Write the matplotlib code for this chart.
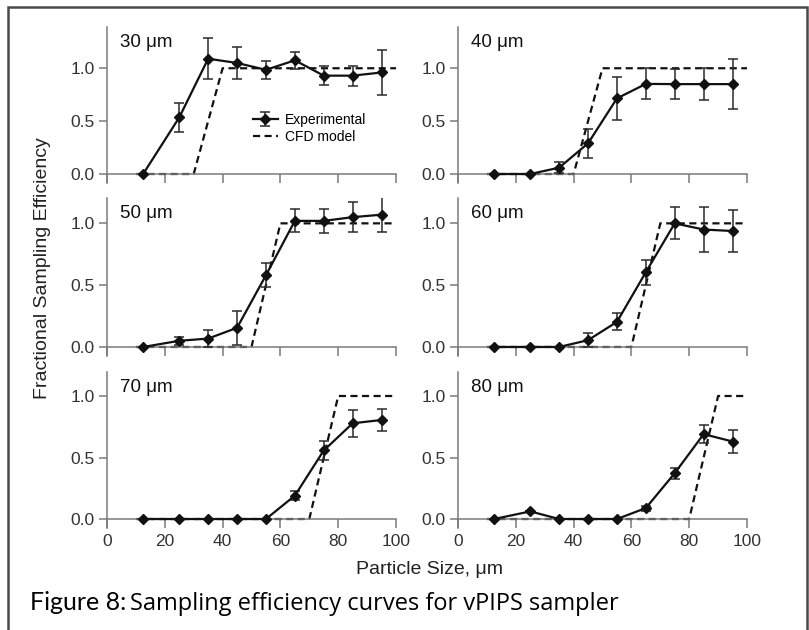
import matplotlib
matplotlib.use("Agg")
import matplotlib.pyplot as plt
from matplotlib.patches import Rectangle

plt.rcParams.update({
    "font.family": ["Liberation Sans", "DejaVu Sans"],
    "font.size": 12.5,
    "axes.edgecolor": "#7a7a7a",
    "xtick.color": "#7a7a7a",
    "ytick.color": "#7a7a7a",
    "xtick.labelcolor": "#333333",
    "ytick.labelcolor": "#333333",
})

# ---------- data ----------
sizes = [12.5, 25, 35, 45, 55, 65, 75, 85, 95]
cutoffs = [30, 40, 50, 60, 70, 80]          # panel labels, um

eff_30 = [0.0, 0.535, 1.09, 1.05, 0.985, 1.075, 0.93, 0.93, 0.96]
err_30 = [0.0, 0.135, 0.195, 0.155, 0.085, 0.08, 0.087, 0.095, 0.21]
eff_40 = [0.0, 0.0, 0.06, 0.29, 0.715, 0.852, 0.85, 0.85, 0.85]
err_40 = [0.0, 0.0, 0.055, 0.135, 0.2, 0.147, 0.145, 0.148, 0.24]
eff_50 = [0.0, 0.05, 0.068, 0.155, 0.58, 1.02, 1.02, 1.05, 1.07]
err_50 = [0.0, 0.03, 0.07, 0.135, 0.097, 0.092, 0.1, 0.12, 0.14]
eff_60 = [0.0, 0.0, 0.0, 0.055, 0.203, 0.605, 1.0, 0.95, 0.938]
err_60 = [0.0, 0.0, 0.0, 0.057, 0.068, 0.1, 0.13, 0.18, 0.17]
eff_70 = [0.0, 0.0, 0.0, 0.0, 0.0, 0.19, 0.557, 0.778, 0.805]
err_70 = [0.0, 0.0, 0.0, 0.0, 0.0, 0.037, 0.074, 0.108, 0.088]
eff_80 = [0.0, 0.062, 0.0, 0.0, 0.0, 0.089, 0.373, 0.69, 0.63]
err_80 = [0.0, 0.0, 0.0, 0.0, 0.0, 0.02, 0.045, 0.075, 0.09]

# CFD model: zero up to the cut size, one at cut size + 10 um
cfd_x_30 = [10, 30, 40, 100]
cfd_x_40 = [10, 40, 50, 100]
cfd_x_50 = [10, 50, 60, 100]
cfd_x_60 = [10, 60, 70, 100]
cfd_x_70 = [10, 70, 80, 100]
cfd_x_80 = [10, 80, 90, 100]
cfd_y = [0.0, 0.0, 1.0, 1.0]

panels = [
    (eff_30, err_30, cfd_x_30),
    (eff_40, err_40, cfd_x_40),
    (eff_50, err_50, cfd_x_50),
    (eff_60, err_60, cfd_x_60),
    (eff_70, err_70, cfd_x_70),
    (eff_80, err_80, cfd_x_80),
]

# ---------- layout ----------
W, H = 809, 630
fig = plt.figure(figsize=(W / 100, H / 100), dpi=100)

col_x = [107, 458]
col_w = 289
row_y = [(27, 183), (198, 356), (372, 528)]
row_ylim = [(-0.085, 1.39), (-0.073, 1.205), (-0.073, 1.195)]

INK = "#111111"

for i, (eff, err, cfd_x) in enumerate(panels):
    r, c = divmod(i, 2)
    top, bot = row_y[r]
    ax = fig.add_axes([col_x[c] / W, 1 - bot / H, col_w / W, (bot - top) / H])
    ax.set_xlim(0, 100)
    ax.set_ylim(*row_ylim[r])

    ax.plot(cfd_x, cfd_y, color=INK, lw=1.6, dashes=(3.2, 2.0), zorder=2,
            label="CFD model")
    ax.errorbar(sizes, eff, yerr=err, fmt="-D", color=INK, lw=1.6, ms=5,
                ecolor="#2a2a2a", elinewidth=1.1, capsize=3.6, capthick=1.1,
                zorder=3, label="Experimental")

    for s in ("top", "right"):
        ax.spines[s].set_visible(False)
    ax.spines["bottom"].set_position(("data", 0))
    ax.spines["left"].set_linewidth(1.1)
    ax.spines["bottom"].set_linewidth(1.1)
    ax.set_xticks([0, 20, 40, 60, 80, 100])
    ax.set_yticks([0.0, 0.5, 1.0])
    ax.set_yticklabels(["0.0", "0.5", "1.0"])
    ax.tick_params(axis="x", direction="out", length=6.5, width=1.1, pad=4.5)
    ax.tick_params(axis="y", direction="out", length=5.8, width=1.1, pad=3)
    if r < 2:
        ax.tick_params(axis="x", labelbottom=False)

    ax.text(0.045, 0.9, f"{cutoffs[i]} \u03bcm", transform=ax.transAxes,
            ha="left", va="center", fontsize=13.5, color=INK)

    if i == 0:
        h, l = ax.get_legend_handles_labels()
        ax.legend(h[::-1], l[::-1], loc="center", bbox_to_anchor=(0.7, 0.35),
                  frameon=False, fontsize=10, handlelength=1.8,
                  handletextpad=0.5, labelspacing=0.2, borderpad=0)

fig.text(43 / W, 1 - 268 / H, "Fractional Sampling Efficiency", rotation=90,
         ha="center", va="center", fontsize=14, color="#222222")
fig.text(430 / W, 1 - 569 / H, "Particle Size, \u03bcm", ha="center",
         va="center", fontsize=14, color="#222222")

# caption
cap1 = fig.text(30 / W, 1 - 610 / H, "Figure 8:", ha="left", va="baseline",
                fontsize=18, family=["Lato", "DejaVu Sans"], color="black")
r = fig.canvas.get_renderer()
bb = cap1.get_window_extent(renderer=r)
fig.text((bb.x1 + 4) / W, 1 - 610 / H,
         "Sampling efficiency curves for vPIPS sampler", ha="left",
         va="baseline", fontsize=17, family=["Open Sans", "DejaVu Sans"],
         color="black")

# frame around the figure
fig.patches.append(Rectangle((8 / W, -0.05), 799 / W, 1.05 - 7 / H,
                             transform=fig.transFigure, fill=False,
                             edgecolor="#4a4a4a", lw=1.8))

fig.savefig("out.png", dpi=100, facecolor="white")
